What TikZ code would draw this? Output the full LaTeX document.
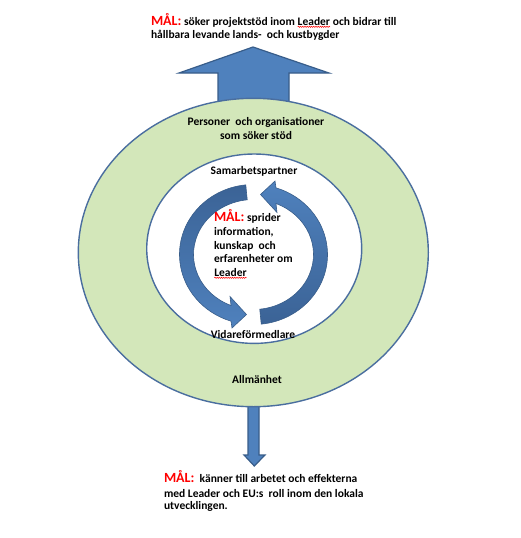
\documentclass[tikz,border=0pt]{standalone}
\usepackage{fontspec}
\setmainfont{Carlito}
\usetikzlibrary{calc,decorations.pathmorphing}
\definecolor{ringgreen}{HTML}{D3E7BA}
\definecolor{edgeblue}{HTML}{4A6E9F}
\definecolor{arrowblue}{HTML}{4F81BD}
\definecolor{arrowdark}{HTML}{3B6396}
\definecolor{arrowedge}{HTML}{385D8A}
\newcommand\goalred{{\color{red}\fontsize{14}{14}\selectfont MÅL:}}
\newcommand\squigword[1]{\tikz[baseline=(sq.base)]{\node[inner sep=0pt,outer sep=0pt](sq){#1};\draw[red,line width=0.5pt,decorate,decoration={snake,amplitude=0.6pt,segment length=2.2pt}]([yshift=-1.8pt]sq.base west)--([yshift=-1.8pt]sq.base east);}}
\begin{document}
\begin{tikzpicture}[x=1pt,y=-1pt,
  txt/.style={font=\bfseries\fontsize{11.5}{13}\selectfont,inner sep=0pt,outer sep=0pt,text=black},
  blockarrow/.style={fill=arrowblue,draw=arrowedge,line width=1.2pt,line join=miter},
  ring/.style={draw=edgeblue,line width=1.4pt}]
\useasboundingbox (0,0) rectangle (520,538);
\fill[white] (0,0) rectangle (520,538);
% block arrows
\draw[blockarrow] (218,110) -- (218,73) -- (179,73) -- (253,47) -- (329,73) -- (289,73) -- (289,110) -- cycle;
\draw[blockarrow] (248,395) -- (248,455) -- (244,455) -- (254.3,466) -- (265,455) -- (259,455) -- (259,395) -- cycle;
% rings
\draw[ring,fill=ringgreen] (253.3,252.5) ellipse [x radius=175, y radius=154.2];
\draw[ring,fill=white] (254.2,248.7) ellipse [x radius=107.5, y radius=94.7];
% circular arrows
\coordinate (C) at (253.5,254.5);
\draw[arrowedge,line width=0.6pt,top color=arrowdark,bottom color=arrowblue]
  ($(C)+(264:74 and 70)$) arc[start angle=264,end angle=107.7,x radius=74,y radius=70]
  -- ($(C)+(-21.5,73.5)$) -- ($(C)+(-7,60)$) -- ($(C)+(-23.5,42)$)
  -- ($(C)+(112:60 and 55)$) arc[start angle=112,end angle=264,x radius=60,y radius=55] -- cycle;
\draw[arrowedge,line width=0.6pt,top color=arrowblue,bottom color=arrowdark]
  ($(C)+(84:74 and 70)$) arc[start angle=84,end angle=-72.3,x radius=74,y radius=70]
  -- ($(C)+(21.5,-73.5)$) -- ($(C)+(7,-60)$) -- ($(C)+(23.5,-42)$)
  -- ($(C)+(-68:60 and 55)$) arc[start angle=-68,end angle=84,x radius=60,y radius=55] -- cycle;
% texts
\node[txt,anchor=base west] (t1) at (151,25) {\goalred{} söker projektstöd inom \squigword{Leader} och bidrar till};
\node[txt,anchor=base west] (t2) at (151,38) {hållbara levande lands-\ \ och kustbygder};
\node[txt,anchor=base] (p1) at (256,125) {Personer\ \ och organisationer};
\node[txt,anchor=base] (p2) at (256,139) {som söker stöd};
\node[txt,anchor=base] (sp) at (254,174) {Samarbetspartner};
\node[txt,anchor=base west] (m1) at (214,221) {\goalred{} sprider};
\node[txt,anchor=base west] (m2) at (214,235) {information,};
\node[txt,anchor=base west] (m3) at (214,249) {kunskap\ \ och};
\node[txt,anchor=base west] (m4) at (214,262) {erfarenheter om};
\node[txt,anchor=base west] (m5) at (214,276) {\squigword{Leader}};
\node[txt,anchor=base] (vf) at (253,338) {Vidareförmedlare};
\node[txt,anchor=base] (al) at (257,383) {Allmänhet};
\node[txt,anchor=base west] (b1) at (164,482) {\goalred{}\ \ känner till arbetet och effekterna};
\node[txt,anchor=base west] (b2) at (164,497) {med Leader och EU:s\ \ roll inom den lokala};
\node[txt,anchor=base west] (b3) at (164,509) {utvecklingen.};
\end{tikzpicture}
\end{document}
